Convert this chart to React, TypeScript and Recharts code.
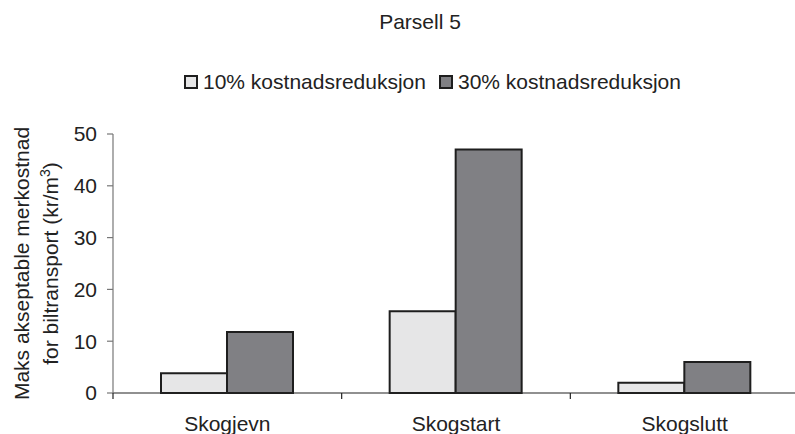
import React from 'react';
import { BarChart, Bar, XAxis, YAxis, Legend } from 'recharts';

const categories = ['Skogjevn', 'Skogstart', 'Skogslutt'];
const series10 = [3.8, 15.8, 2];
const series30 = [11.8, 47, 6];
const yTicks = [0, 10, 20, 30, 40, 50];
const seriesNames = ['10% kostnadsreduksjon', '30% kostnadsreduksjon'];
const seriesColors = ['#e6e6e7', '#808084'];
const title = 'Parsell 5';
const yLabelLine1 = 'Maks akseptable merkostnad';
const yLabelLine2 = 'for biltransport (kr/m';

const data = categories.map((c, i) => ({ name: c, s10: series10[i], s30: series30[i] }));

const CHART_W = 799;
const CHART_H = 434;
const MARGIN = { top: 134, right: 0, bottom: 0, left: 53 };
const Y_AXIS_W = 60;
const X_AXIS_H = 41;
const PLOT_LEFT = MARGIN.left + Y_AXIS_W;
const BAND = (CHART_W - PLOT_LEFT - MARGIN.right) / categories.length;
const FONT = '"Liberation Sans", Arial, Helvetica, sans-serif';
const TEXT = '#222';

const CategoryTick = (props: any) => {
  const { x, y, payload } = props;
  return (
    <g>
      <line x1={x - BAND / 2} x2={x - BAND / 2} y1={y} y2={y + 6} stroke="#222" strokeWidth={1.2} />
      <text x={x} y={y + 38} textAnchor="middle" fontSize={21} fill={TEXT} fontFamily={FONT}>
        {payload.value}
      </text>
    </g>
  );
};

const YLabel = (props: any) => {
  const vb = props.viewBox || { x: MARGIN.left, y: MARGIN.top, width: Y_AXIS_W, height: 259 };
  const cy = vb.y + vb.height / 2;
  const x1 = vb.x - 24;
  const x2 = vb.x + 5;
  return (
    <g>
      <text x={x1} y={cy} transform={`rotate(-90 ${x1} ${cy})`} textAnchor="middle" fontSize={21} fill={TEXT} fontFamily={FONT}>
        {yLabelLine1}
      </text>
      <text x={x2} y={cy} transform={`rotate(-90 ${x2} ${cy})`} textAnchor="middle" fontSize={21} fill={TEXT} fontFamily={FONT}>
        {yLabelLine2}
        <tspan dy={-8} fontSize={14}>3</tspan>
        <tspan dy={8}>)</tspan>
      </text>
    </g>
  );
};

const LegendContent = () => (
  <div
    style={{
      display: 'flex',
      alignItems: 'center',
      height: 24,
      lineHeight: '24px',
      paddingLeft: 184,
      fontSize: 21,
      color: TEXT,
      fontFamily: FONT,
      whiteSpace: 'nowrap',
    }}
  >
    {seriesNames.map((n, i) => (
      <div key={n} style={{ display: 'flex', alignItems: 'center', marginRight: 13 }}>
        <span
          style={{
            display: 'inline-block',
            width: 14,
            height: 14,
            boxSizing: 'border-box',
            border: '2px solid #1e1e1e',
            background: seriesColors[i],
            marginRight: 5,
          }}
        />
        <span>{n}</span>
      </div>
    ))}
  </div>
);

export default function App() {
  return (
    <div
      style={{
        position: 'absolute',
        left: 0,
        top: 0,
        width: 795,
        height: 434,
        overflow: 'hidden',
        background: '#fff',
        fontFamily: FONT,
      }}
    >
      <BarChart width={CHART_W} height={CHART_H} data={data} margin={MARGIN} barGap={0} barSize={66}>
        <text x={420} y={29} textAnchor="middle" fontSize={21} fill={TEXT} fontFamily={FONT}>
          {title}
        </text>
        <XAxis
          dataKey="name"
          height={X_AXIS_H}
          tickLine={false}
          tickSize={0}
          tickMargin={0}
          axisLine={{ stroke: '#222', strokeWidth: 1.2 }}
          tick={<CategoryTick />}
          interval={0}
        />
        <YAxis
          width={Y_AXIS_W}
          domain={[0, 50]}
          ticks={yTicks}
          tickSize={6}
          tickMargin={10}
          axisLine={{ stroke: '#777', strokeWidth: 1.2 }}
          tickLine={{ stroke: '#777', strokeWidth: 1.2 }}
          tick={{ fontSize: 21, fill: TEXT, fontFamily: FONT }}
          label={{ content: <YLabel /> }}
        />
        <Legend
          layout="horizontal"
          verticalAlign="middle"
          align="center"
          wrapperStyle={{ top: 70, left: 0, width: CHART_W, height: 24 }}
          content={<LegendContent />}
        />
        <Bar dataKey="s10" name={seriesNames[0]} fill={seriesColors[0]} stroke="#1e1e1e" strokeWidth={2} isAnimationActive={false} />
        <Bar dataKey="s30" name={seriesNames[1]} fill={seriesColors[1]} stroke="#1e1e1e" strokeWidth={2} isAnimationActive={false} />
      </BarChart>
    </div>
  );
}
